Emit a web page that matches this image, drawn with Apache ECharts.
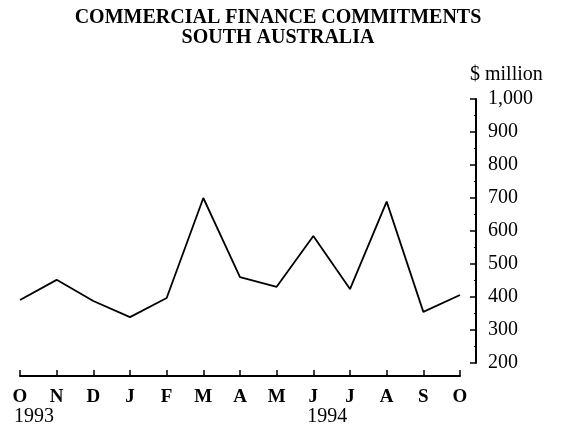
<!DOCTYPE html>
<html>
<head>
<meta charset="utf-8">
<script src="https://cdn.jsdelivr.net/npm/echarts@6/dist/echarts.min.js"></script>
<style>
  html, body { margin: 0; padding: 0; background: #fff; }
  #chart { width: 561px; height: 432px; }
</style>
</head>
<body>
<div id="chart"></div>
<script>
// months Oct 1993 - Oct 1994
const months = ["O", "N", "D", "J", "F", "M", "A", "M", "J", "J", "A", "S", "O"];
const commitments = [391, 452, 388, 339, 397, 700, 460, 431, 585, 424, 689, 355, 406];
const yearLabels = [
  { index: 0, text: "1993" },
  { index: 8, text: "1994" },
];
const yTicks = { min: 200, max: 1000, interval: 100 };

const serif = "'Liberation Serif', 'DejaVu Serif', serif";

const chart = echarts.init(document.getElementById("chart"), null, { renderer: "canvas" });

const option = {
  backgroundColor: "#fff",
  animation: false,
  title: {
    text: "COMMERCIAL FINANCE COMMITMENTS\nSOUTH AUSTRALIA",
    left: 273,
    top: 3,
    textAlign: "center",
    textStyle: {
      fontFamily: serif,
      fontWeight: "bold",
      fontSize: 20,
      lineHeight: 20,
      color: "#000",
    },
  },
  grid: {
    left: 20,
    right: 101,
    top: 99,
    bottom: 69,
  },
  xAxis: {
    type: "category",
    data: months,
    boundaryGap: false,
    offset: 13,
    axisLine: { lineStyle: { color: "#000", width: 2 } },
    axisTick: { inside: true, length: 6, lineStyle: { color: "#000", width: 1.5 } },
    axisLabel: {
      interval: 0,
      margin: 12,
      fontFamily: serif,
      fontWeight: "bold",
      fontSize: 19,
      color: "#000",
    },
    splitLine: { show: false },
  },
  yAxis: {
    type: "value",
    position: "right",
    offset: 16,
    min: yTicks.min,
    max: yTicks.max,
    interval: yTicks.interval,
    name: "$ million",
    nameGap: 14,
    nameTextStyle: {
      fontFamily: serif,
      fontSize: 20,
      color: "#000",
      align: "left",
      padding: [0, 0, 0, -6],
    },
    axisLine: { show: true, lineStyle: { color: "#000", width: 2 } },
    axisTick: { show: true, inside: true, length: 6, lineStyle: { color: "#000", width: 1.5 } },
    minorTick: { show: true, splitNumber: 2, length: 2, lineStyle: { color: "#000", width: 1 } },
    axisLabel: {
      margin: 12,
      fontFamily: serif,
      fontSize: 20,
      color: "#000",
      verticalAlign: "middle",
      padding: [8, 0, 0, 0],
      formatter: v => v.toLocaleString("en-US"),
    },
    splitLine: { show: false },
  },
  series: [
    {
      type: "line",
      data: commitments,
      showSymbol: false,
      lineStyle: { color: "#000", width: 1.8 },
    },
  ],
};

chart.setOption(option);

// year labels under the first month of each year, slightly right of the tick
const graphics = yearLabels.map(y => {
  const px = chart.convertToPixel({ xAxisIndex: 0 }, y.index);
  return {
    type: "text",
    x: px + 14,
    y: 407,
    style: {
      text: y.text,
      font: "20px " + serif,
      fill: "#000",
      textAlign: "center",
    },
  };
});
chart.setOption({ graphic: graphics });
</script>
</body>
</html>
